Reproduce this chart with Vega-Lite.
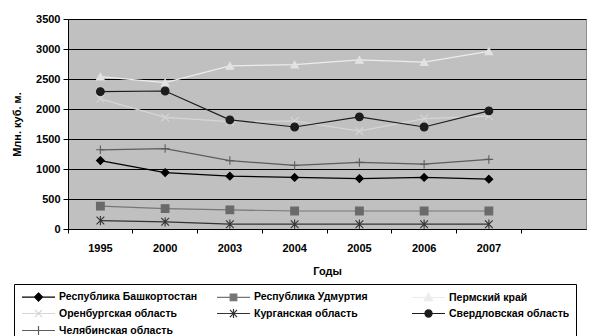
{
  "$schema": "https://vega.github.io/schema/vega-lite/v6.json",
  "width": 518,
  "height": 210,
  "autosize": "none",
  "padding": {"left": 68, "top": 19, "right": 6, "bottom": 107},
  "background": "white",
  "data": {
    "values": [
      {"year": "1995", "r": "Республика Башкортостан", "v": 1140},
      {"year": "2000", "r": "Республика Башкортостан", "v": 940},
      {"year": "2003", "r": "Республика Башкортостан", "v": 880},
      {"year": "2004", "r": "Республика Башкортостан", "v": 860},
      {"year": "2005", "r": "Республика Башкортостан", "v": 840},
      {"year": "2006", "r": "Республика Башкортостан", "v": 860},
      {"year": "2007", "r": "Республика Башкортостан", "v": 830},
      {"year": "1995", "r": "Республика Удмуртия", "v": 380},
      {"year": "2000", "r": "Республика Удмуртия", "v": 340},
      {"year": "2003", "r": "Республика Удмуртия", "v": 320},
      {"year": "2004", "r": "Республика Удмуртия", "v": 300},
      {"year": "2005", "r": "Республика Удмуртия", "v": 300},
      {"year": "2006", "r": "Республика Удмуртия", "v": 300},
      {"year": "2007", "r": "Республика Удмуртия", "v": 300},
      {"year": "1995", "r": "Пермский край", "v": 2540},
      {"year": "2000", "r": "Пермский край", "v": 2440},
      {"year": "2003", "r": "Пермский край", "v": 2720},
      {"year": "2004", "r": "Пермский край", "v": 2740},
      {"year": "2005", "r": "Пермский край", "v": 2820},
      {"year": "2006", "r": "Пермский край", "v": 2780},
      {"year": "2007", "r": "Пермский край", "v": 2960},
      {"year": "1995", "r": "Оренбургская область", "v": 2170},
      {"year": "2000", "r": "Оренбургская область", "v": 1860},
      {"year": "2003", "r": "Оренбургская область", "v": 1790},
      {"year": "2004", "r": "Оренбургская область", "v": 1800},
      {"year": "2005", "r": "Оренбургская область", "v": 1630},
      {"year": "2006", "r": "Оренбургская область", "v": 1840},
      {"year": "2007", "r": "Оренбургская область", "v": 1880},
      {"year": "1995", "r": "Курганская область", "v": 140},
      {"year": "2000", "r": "Курганская область", "v": 120},
      {"year": "2003", "r": "Курганская область", "v": 80},
      {"year": "2004", "r": "Курганская область", "v": 80},
      {"year": "2005", "r": "Курганская область", "v": 80},
      {"year": "2006", "r": "Курганская область", "v": 80},
      {"year": "2007", "r": "Курганская область", "v": 80},
      {"year": "1995", "r": "Свердловская область", "v": 2290},
      {"year": "2000", "r": "Свердловская область", "v": 2300},
      {"year": "2003", "r": "Свердловская область", "v": 1820},
      {"year": "2004", "r": "Свердловская область", "v": 1700},
      {"year": "2005", "r": "Свердловская область", "v": 1870},
      {"year": "2006", "r": "Свердловская область", "v": 1700},
      {"year": "2007", "r": "Свердловская область", "v": 1970},
      {"year": "1995", "r": "Челябинская область", "v": 1320},
      {"year": "2000", "r": "Челябинская область", "v": 1340},
      {"year": "2003", "r": "Челябинская область", "v": 1140},
      {"year": "2004", "r": "Челябинская область", "v": 1060},
      {"year": "2005", "r": "Челябинская область", "v": 1110},
      {"year": "2006", "r": "Челябинская область", "v": 1080},
      {"year": "2007", "r": "Челябинская область", "v": 1160}
    ]
  },
  "encoding": {
    "x": {
      "field": "year",
      "type": "ordinal",
      "scale": {"type": "band", "domain": ["1995", "2000", "2003", "2004", "2005", "2006", "2007", ""], "paddingInner": 0, "paddingOuter": 0},
      "axis": {
        "title": "Годы",
        "labelAngle": 0,
        "bandPosition": 0,
        "grid": false,
        "tickSize": 4,
        "labelPadding": 9,
        "titlePadding": 12
      }
    },
    "y": {
      "field": "v",
      "type": "quantitative",
      "scale": {"domain": [0, 3500], "nice": false},
      "axis": {
        "title": "Млн. куб. м.",
        "format": "d",
        "values": [0, 500, 1000, 1500, 2000, 2500, 3000, 3500],
        "grid": true,
        "tickSize": 5,
        "labelPadding": 3,
        "titlePadding": 13
      }
    }
  },
  "layer": [
    {
      "mark": {"type": "line", "strokeWidth": 1.2},
      "encoding": {
        "color": {
          "field": "r",
          "type": "nominal",
          "scale": {
            "domain": ["Республика Башкортостан", "Республика Удмуртия", "Пермский край", "Оренбургская область", "Курганская область", "Свердловская область", "Челябинская область"],
            "range": ["#000000", "#767676", "#ececec", "#d6d6d6", "#333333", "#1c1c1c", "#5c5c5c"]
          },
          "legend": {
            "title": null,
            "orient": "none",
            "legendX": -54,
            "legendY": 265,
            "direction": "horizontal",
            "columns": 3,
            "gridAlign": "all",
            "columnPadding": 16,
            "rowPadding": 2,
            "padding": 6,
            "strokeColor": "#000000",
            "fillColor": "#ffffff",
            "symbolSize": 121,
            "symbolOffset": 12,
            "symbolStrokeWidth": 1.2,
            "labelOffset": 14,
            "labelFontSize": 10.5,
            "labelFontWeight": "bold",
            "labelColor": "#000000",
            "labelLimit": 220,
            "encode": {
              "symbols": {
                "update": {
                  "shape": {"signal": "{'Республика Башкортостан': 'M-3,0L3,0M0,-0.73L0.73,0L0,0.73L-0.73,0Z', 'Республика Удмуртия': 'M-3,0L3,0M-0.6,-0.6L0.6,-0.6L0.6,0.6L-0.6,0.6Z', 'Пермский край': 'M-3,0L3,0M0,-0.78L0.75,0.55L-0.75,0.55Z', 'Оренбургская область': 'M-3,0L3,0M-0.65,-0.65L0.65,0.65M-0.65,0.65L0.65,-0.65', 'Курганская область': 'M-3,0L3,0M-0.65,-0.65L0.65,0.65M-0.65,0.65L0.65,-0.65M0,-0.8L0,0.8', 'Свердловская область': 'M-3,0L3,0M-0.65,0A0.65,0.65,0,1,0,0.65,0A0.65,0.65,0,1,0,-0.65,0Z', 'Челябинская область': 'M-3,0L3,0M0,-0.8L0,0.8'}[datum.value]"},
                  "size": {"value": 121},
                  "fill": {"scale": "color", "field": "value"},
                  "stroke": {"scale": "color", "field": "value"},
                  "strokeWidth": {"value": 1.2},
                  "opacity": {"value": 1},
                  "fillOpacity": {"value": 1}
                }
              }
            }
          }
        }
      }
    },
    {
      "mark": {"type": "point", "size": 60, "strokeWidth": 1.1, "opacity": 1, "fillOpacity": 1},
      "encoding": {
        "fill": {
          "field": "r",
          "type": "nominal",
          "legend": null,
          "scale": {
            "domain": ["Челябинская область", "Свердловская область", "Курганская область", "Оренбургская область", "Пермский край", "Республика Удмуртия", "Республика Башкортостан"],
            "range": ["#5c5c5c", "#1c1c1c", "#333333", "#d6d6d6", "#e2e2e2", "#6a6a6a", "#000000"]
          }
        },
        "stroke": {
          "field": "r",
          "type": "nominal",
          "legend": null,
          "scale": {
            "domain": ["Челябинская область", "Свердловская область", "Курганская область", "Оренбургская область", "Пермский край", "Республика Удмуртия", "Республика Башкортостан"],
            "range": ["#5c5c5c", "#1c1c1c", "#333333", "#d6d6d6", "#e2e2e2", "#6a6a6a", "#000000"]
          }
        },
        "shape": {
          "field": "r",
          "type": "nominal",
          "legend": null,
          "scale": {
            "domain": ["Челябинская область", "Свердловская область", "Курганская область", "Оренбургская область", "Пермский край", "Республика Удмуртия", "Республика Башкортостан"],
            "range": ["M-1.1,0L1.1,0M0,-1.1L0,1.1", "circle", "M-1,-1L1,1M-1,1L1,-1M0,-1.2L0,1.2", "M-1,-1L1,1M-1,1L1,-1", "triangle-up", "square", "M0,-1L1,0L0,1L-1,0Z"]
          }
        }
      }
    }
  ],
  "config": {
    "font": "Liberation Sans",
    "view": {"fill": "#c0c0c0", "stroke": "#8c8c8c", "strokeWidth": 1},
    "axis": {
      "domainColor": "#000000",
      "domainWidth": 1,
      "tickColor": "#000000",
      "tickWidth": 1,
      "gridColor": "#000000",
      "gridOpacity": 1,
      "gridWidth": 1,
      "labelFont": "Liberation Sans",
      "labelFontSize": 11,
      "labelFontWeight": "bold",
      "labelColor": "#000000",
      "titleFont": "Liberation Sans",
      "titleFontSize": 11,
      "titleFontWeight": "bold",
      "titleColor": "#000000"
    }
  }
}
